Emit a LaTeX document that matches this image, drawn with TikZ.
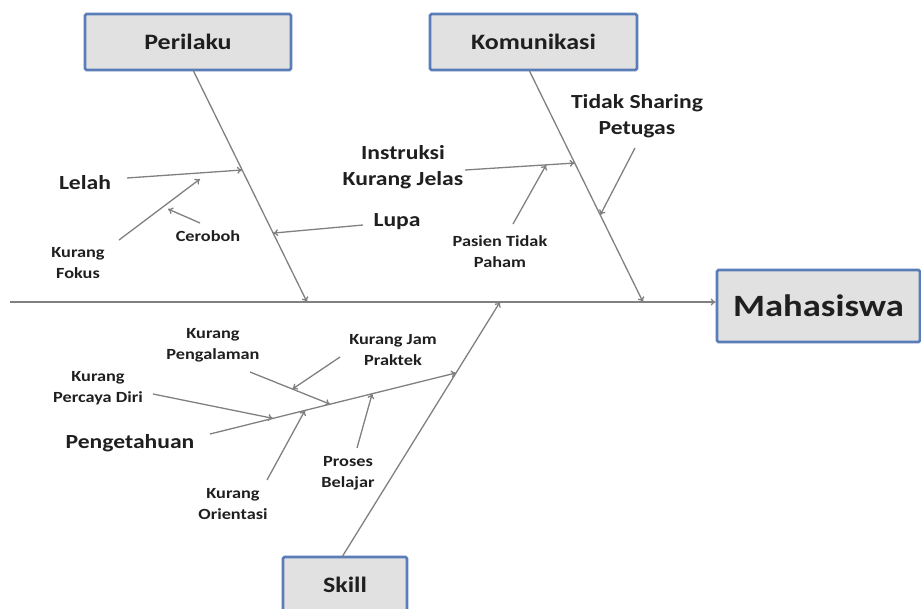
\documentclass[tikz,border=0pt]{standalone}
\usepackage{fontspec}
\setmainfont{Carlito}[FakeStretch=1.18]
\usetikzlibrary{arrows.meta,calc}
\definecolor{boxfill}{HTML}{E1E1E1}
\definecolor{boxline}{HTML}{5A7DB8}
\definecolor{bone}{HTML}{808080}
\definecolor{txt}{HTML}{1F1F1F}
\tikzset{
  catbox/.style={draw=boxline, line width=2.6pt, rounded corners=1.5pt, fill=boxfill, inner sep=0pt,
    text=txt, font=\bfseries\fontsize{22}{26}\selectfont},
  bonearrow/.style={draw=bone, line width=1.3pt, -{To[length=5pt,width=7pt]}},
  medlabel/.style={font=\bfseries\fontsize{20}{26}\selectfont, text=txt, align=center, inner sep=0pt},
  smllabel/.style={font=\bfseries\fontsize{15.5}{21}\selectfont, text=txt, align=center, inner sep=0pt},
}
\begin{document}
\begin{tikzpicture}[x=1pt,y=-1pt]
\useasboundingbox (0,0) rectangle (921,608);
\begin{scope}
\clip (0,0) rectangle (921,608);
% category boxes
\node[catbox, minimum width=206pt, minimum height=56pt] (peri) at (188,42) {Perilaku};
\node[catbox, minimum width=207pt, minimum height=56pt] (komu) at (533.5,42) {Komunikasi};
\node[catbox, minimum width=203pt, minimum height=72pt, font=\bfseries\fontsize{31}{36}\selectfont] (maha) at (818.5,306) {Mahasiswa};
\node[catbox, minimum width=124pt, minimum height=56pt] (skill) at (345,585) {Skill};
\end{scope}

% bone coordinates
\coordinate (spineL) at (10,302);
\coordinate (pTop) at (193,70);
\coordinate (pBot) at (307,302);
\coordinate (kTop) at (529,70);
\coordinate (kBot) at (643,302);
\coordinate (sTop) at (500,302);
\coordinate (sBot) at (342,557);
\coordinate (pgS) at (210,434);
\coordinate (pgE) at ($(sTop)!0.278!(sBot)$);

% spine and main bones
\draw[bonearrow] (spineL) -- (spineL -| maha.west);
\draw[bonearrow] (pTop) -- (pBot);
\draw[bonearrow] (kTop) -- (kBot);
\draw[bonearrow] (sBot) -- (sTop);
\draw[bonearrow] (pgS) -- (pgE);

% labels
\node[medlabel] (lelah) at (85,183) {Lelah};
\node[smllabel] (fokus) at (78,263) {Kurang\\Fokus};
\node[smllabel] (ceroboh) at (208,236) {Ceroboh};
\node[medlabel] (lupa) at (397,222) {Lupa};
\node[medlabel] (instr) at (403,167) {Instruksi\\Kurang Jelas};
\node[smllabel] (pasien) at (500,252) {Pasien Tidak\\Paham};
\node[medlabel] (sharing) at (637,116) {Tidak Sharing\\Petugas};
\node[medlabel] (penget) at (130,443) {Pengetahuan};
\node[smllabel] (percaya) at (98,388) {Kurang\\Percaya Diri};
\node[smllabel] (pengal) at (213,345) {Kurang\\Pengalaman};
\node[smllabel] (jam) at (393,350) {Kurang Jam\\Praktek};
\node[smllabel] (orient) at (233,504) {Kurang\\Orientasi};
\node[smllabel] (proses) at (348,473) {Proses\\Belajar};

% arrow coordinates
\coordinate (lelahS) at (127,178);
\coordinate (lelahE) at ($(pTop)!0.431!(pBot)$);
\coordinate (fokusS) at (119,240);
\coordinate (fokusE) at (200,179);
\coordinate (cerS) at (200,223);
\coordinate (cerE) at (168,209);
\coordinate (lupaS) at (363,225);
\coordinate (lupaE) at ($(pTop)!0.703!(pBot)$);
\coordinate (instrS) at (465,170);
\coordinate (instrE) at ($(kTop)!0.401!(kBot)$);
\coordinate (pasS) at (513,224);
\coordinate (pasE) at ($(instrS)!0.74!(instrE)$);
\coordinate (shS) at (635,148);
\coordinate (shE) at ($(kTop)!0.625!(kBot)$);
\coordinate (perS) at (153,394);
\coordinate (perE) at ($(pgS)!0.256!(pgE)$);
\coordinate (pglS) at (250,372);
\coordinate (pglE) at ($(pgS)!0.488!(pgE)$);
\coordinate (jamS) at (340,357);
\coordinate (jamE) at ($(pglS)!0.53!(pglE)$);
\coordinate (oriS) at (267,480);
\coordinate (oriE) at ($(pgS)!0.386!(pgE)$);
\coordinate (proS) at (357,448);
\coordinate (proE) at ($(pgS)!0.659!(pgE)$);

\draw[bonearrow] (lelahS) -- (lelahE);
\draw[bonearrow] (fokusS) -- (fokusE);
\draw[bonearrow] (cerS) -- (cerE);
\draw[bonearrow] (lupaS) -- (lupaE);
\draw[bonearrow] (instrS) -- (instrE);
\draw[bonearrow] (pasS) -- (pasE);
\draw[bonearrow] (shS) -- (shE);
\draw[bonearrow] (perS) -- (perE);
\draw[bonearrow] (pglS) -- (pglE);
\draw[bonearrow] (jamS) -- (jamE);
\draw[bonearrow] (oriS) -- (oriE);
\draw[bonearrow] (proS) -- (proE);
\end{tikzpicture}
\end{document}
